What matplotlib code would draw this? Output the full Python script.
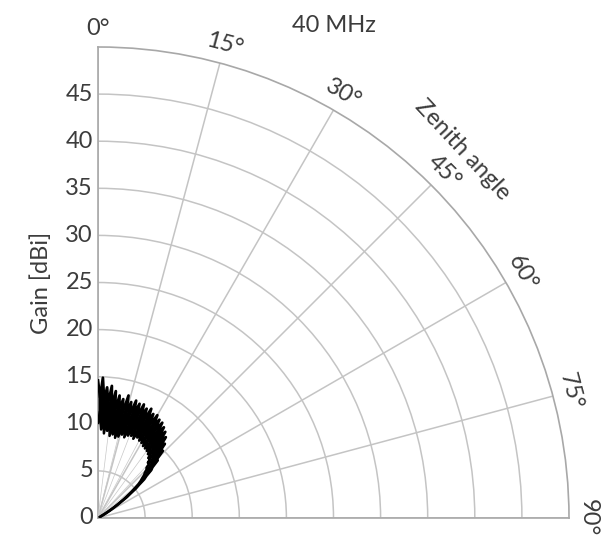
import numpy as np
import matplotlib
matplotlib.use("Agg")
import matplotlib.pyplot as plt
from matplotlib.transforms import offset_copy

plt.rcParams['font.family'] = ['Lato', 'DejaVu Sans']

# Zenith angle (deg) and measured gain envelope (dBi) at 40 MHz
zenith = [0, 1, 2, 3, 4, 5, 6, 7, 8, 9, 10, 11, 12, 13, 14, 15, 16, 17, 18, 19,
          20, 21, 22, 23, 24, 25, 26, 27, 28, 29, 30, 31, 32, 33, 34, 35, 36, 37,
          38, 39, 40, 41, 42, 43, 44, 45, 46, 47, 48, 49, 50, 51, 52, 53, 54, 55,
          56, 57, 58, 59, 60]
gain_high = [14.6, 12.8, 14.9, 12.5, 13.9, 12.2, 14.1, 11.9, 13.6, 11.5, 13.2,
             11.8, 12.9, 11.2, 13.4, 11.6, 12.8, 11.3, 13.1, 11.7, 12.9, 11.4,
             13.0, 11.8, 12.7, 11.3, 12.9, 11.6, 12.5, 11.2, 12.6, 11.4, 12.3,
             11.0, 12.2, 10.9, 11.9, 10.7, 11.6, 10.4, 11.2, 10.1, 10.6, 9.6,
             9.9, 8.9, 8.8, 7.9, 7.6, 6.8, 6.4, 5.6, 5.1, 4.3, 3.8, 3.0, 2.5,
             1.9, 1.4, 0.9, 0.4]
gain_low = [10.1, 11.3, 9.4, 10.9, 9.0, 10.7, 9.3, 10.4, 8.8, 10.2, 9.0, 10.3,
            8.7, 9.9, 8.9, 10.1, 9.2, 10.4, 9.0, 10.2, 9.3, 10.5, 9.4, 10.3, 9.2,
            10.4, 9.5, 10.2, 9.3, 10.1, 9.2, 9.9, 9.0, 9.8, 8.9, 9.6, 8.8, 9.4,
            8.6, 9.1, 8.3, 8.7, 7.9, 8.1, 7.4, 7.3, 6.9, 6.7, 6.3, 6.0, 5.6, 5.0,
            4.5, 3.8, 3.3, 2.6, 2.1, 1.6, 1.1, 0.7, 0.2]
# sweeps that dropped back to the origin
spoke_idx = [7, 14, 21, 28, 36, 43, 50]

r_ticks = [0, 5, 10, 15, 20, 25, 30, 35, 40, 45]
theta_ticks = [0, 15, 30, 45, 60, 75, 90]

text_color = '#3c3c3c'
grid_color = '#c4c4c4'

fig = plt.figure(figsize=(6.1, 5.42), dpi=100)
ax = fig.add_axes([98 / 610, 24 / 542, 471 / 610, 471 / 542], projection='polar')
ax.set_theta_zero_location('N')
ax.set_theta_direction(-1)
ax.set_thetamin(0)
ax.set_thetamax(90)
ax.set_rlim(0, 50)

th = np.radians(zenith)
for i in spoke_idx:
    ax.plot([th[i], th[i]], [0, gain_low[i]], color='#c8c8c8', lw=0.5, zorder=3)
ax.fill_between(th, gain_low, gain_high, color='black', lw=0, zorder=4)
ax.plot(th, gain_high, color='black', lw=2.0, zorder=4)
ax.plot(th, gain_low, color='black', lw=1.8, zorder=4)

ax.set_rticks(r_ticks)
ax.set_yticklabels([])
ax.set_xticks(np.radians(theta_ticks))
ax.set_xticklabels([])
ax.grid(True, color=grid_color, lw=1.1)
ax.tick_params(length=0)
for s in ax.spines.values():
    s.set_color('#a8a8a8')
    s.set_linewidth(1.2)

off = offset_copy(ax.transData, fig=fig, x=-5, y=0, units='dots')
for r in r_ticks:
    ax.text(0, r, str(r), transform=off, ha='right', va='center',
            fontsize=17, color=text_color)

for t in theta_ticks:
    ax.text(np.radians(t), 52, f'{t}°', rotation=-t, rotation_mode='anchor',
            ha='center', va='center', fontsize=17, color=text_color)

ax.text(np.radians(44.7), 55, 'Zenith angle', rotation=-47, rotation_mode='anchor',
        ha='center', va='center', fontsize=17, color=text_color)

fig.text(41 / 610, 1 - 283 / 542, 'Gain [dBi]', rotation=90, ha='center',
         va='center', fontsize=17, color=text_color)
fig.text(334 / 610, 1 - 25 / 542, '40 MHz', ha='center', va='center',
         fontsize=17, color=text_color)

fig.savefig('out.png', dpi=100, facecolor='white')
